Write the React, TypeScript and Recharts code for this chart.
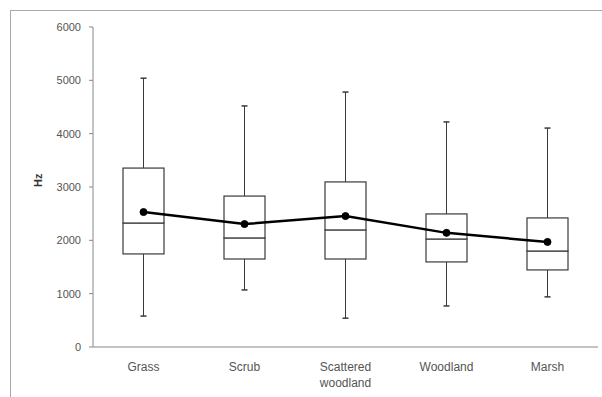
import { ComposedChart, Bar, Line, XAxis, YAxis } from 'recharts';

const habitats = ['Grass', 'Scrub', 'Scattered woodland', 'Woodland', 'Marsh'];
const minHz = [580, 1070, 540, 770, 940];
const q1Hz = [1745, 1650, 1650, 1595, 1445];
const medianHz = [2325, 2045, 2195, 2025, 1800];
const q3Hz = [3355, 2830, 3095, 2495, 2420];
const maxHz = [5040, 4520, 4780, 4220, 4105];
const meanHz = [2530, 2305, 2455, 2140, 1970];
const yTicks = [0, 1000, 2000, 3000, 4000, 5000, 6000];

// stacked segments: invisible base, lower whisker, lower box, upper box, upper whisker
const data = habitats.map((name, i) => ({
  name,
  base: minHz[i],
  lowWhisker: q1Hz[i] - minHz[i],
  lowBox: medianHz[i] - q1Hz[i],
  highBox: q3Hz[i] - medianHz[i],
  highWhisker: maxHz[i] - q3Hz[i],
  mean: meanHz[i],
}));

const INK = '#3a3a3a';
const FONT = '"Liberation Sans", Arial, sans-serif';

const Empty = () => <g />;

const whisker = (capAtTop: boolean) => (props: any) => {
  const { x, y, width, height } = props;
  const cx = x + width / 2;
  const capY = capAtTop ? y : y + height;
  return (
    <g>
      <line x1={cx} y1={y} x2={cx} y2={y + height} stroke={INK} strokeWidth={1} />
      <line x1={cx - 3} y1={capY} x2={cx + 3} y2={capY} stroke={INK} strokeWidth={1.5} />
    </g>
  );
};

const Box = (props: any) => {
  const { x, y, width, height } = props;
  return <rect x={x} y={y} width={width} height={height} fill="#fff" stroke={INK} strokeWidth={1.2} />;
};

const HabitatTick = (props: any) => {
  const { x, y, payload } = props;
  const words = payload.value === 'Scattered woodland' ? ['Scattered', 'woodland'] : [payload.value];
  return (
    <text x={x} y={y} textAnchor="middle" fill="#555" fontSize={12} fontFamily={FONT}>
      {words.map((w: string) => (
        <tspan key={w} x={x} dy={16}>
          {w}
        </tspan>
      ))}
    </text>
  );
};

export default function App() {
  return (
    <div style={{ position: 'absolute', left: 0, top: 0, width: 602, height: 397, background: '#fff' }}>
      <div
        style={{
          position: 'absolute',
          left: 10,
          top: 10,
          width: 600,
          height: 400,
          borderTop: '1px solid #a8a8a8',
          borderLeft: '1px solid #a8a8a8',
        }}
      />
      <ComposedChart
        width={602}
        height={397}
        data={data}
        margin={{ top: 27, right: 4, bottom: 0, left: 0 }}
        style={{ position: 'absolute', left: 0, top: 0 }}
      >
        <XAxis
          dataKey="name"
          height={50}
          tickLine={false}
          stroke="#888"
          tick={<HabitatTick />}
        />
        <YAxis
          width={93}
          domain={[0, 6000]}
          ticks={yTicks}
          tickSize={4}
          tickMargin={8}
          stroke="#888"
          tick={{ fill: '#555', fontSize: 11, fontFamily: FONT }}
          label={{
            value: 'Hz',
            angle: -90,
            position: 'insideLeft',
            offset: 38,
            style: { fill: '#333', fontSize: 11, fontWeight: 'bold', fontFamily: FONT },
          }}
        />
        <Bar dataKey="base" stackId="box" barSize={41} shape={<Empty />} isAnimationActive={false} />
        <Bar dataKey="lowWhisker" stackId="box" barSize={41} shape={whisker(false)} isAnimationActive={false} />
        <Bar dataKey="lowBox" stackId="box" barSize={41} shape={<Box />} isAnimationActive={false} />
        <Bar dataKey="highBox" stackId="box" barSize={41} shape={<Box />} isAnimationActive={false} />
        <Bar dataKey="highWhisker" stackId="box" barSize={41} shape={whisker(true)} isAnimationActive={false} />
        <Line
          dataKey="mean"
          type="linear"
          stroke="#000"
          strokeWidth={2.5}
          dot={{ r: 3.5, fill: '#000', stroke: '#000', strokeWidth: 1 }}
          isAnimationActive={false}
        />
      </ComposedChart>
    </div>
  );
}
